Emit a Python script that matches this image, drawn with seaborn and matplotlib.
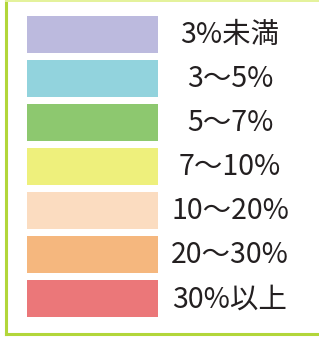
import matplotlib
matplotlib.use("Agg")
import matplotlib.pyplot as plt
import pandas as pd
import seaborn as sns
from matplotlib.lines import Line2D

# legend entries (top to bottom)
labels = ["3%未満", "3〜5%", "5〜7%", "7〜10%", "10〜20%", "20〜30%", "30%以上"]
colors = ["#bcbade", "#92d3dd", "#8dc86f", "#eef07c", "#fbdcc0", "#f5b77e", "#eb7779"]
widths = [1, 1, 1, 1, 1, 1, 1]

W, H = 319, 339
sns.set_theme(style="white")
plt.rcParams["font.family"] = ["Noto Sans CJK JP", "DejaVu Sans"]

fig = plt.figure(figsize=(W / 100, H / 100), dpi=100)
fig.patch.set_facecolor("white")

# swatch area: first row top 16px, pitch 44px, bar 37px
ax = fig.add_axes([27 / W, (H - 320.5) / H, (W - 27) / W, 308 / H])
df = pd.DataFrame({"label": labels, "w": widths})
sns.barplot(data=df, y="label", x="w", hue="label", palette=colors,
            orient="h", width=37 / 44, legend=False, saturation=1,
            linewidth=0, ax=ax)
ax.set_xlim(0, (W - 27) / 131)
ax.set_ylim(len(labels) - 0.5, -0.5)
ax.axis("off")

for i, lab in enumerate(labels):
    ax.text((230 - 27) / 131, i + 0.02, lab, ha="center", va="center",
            fontsize=20.5, color="#231f20")

# green frame (left, bottom, top)
def px_line(x0, y0, x1, y1, c, lw):
    fig.add_artist(Line2D([x0 / W, x1 / W], [1 - y0 / H, 1 - y1 / H],
                          transform=fig.transFigure, color=c, lw=lw,
                          solid_capstyle="projecting"))

px_line(5.5, 1, 5.5, 333.5, "#b2d63a", 2.2)
px_line(5.5, 333.5, W + 2, 333.5, "#b2d63a", 2.2)
px_line(5.5, 0.8, W + 2, 0.8, "#e4f29a", 1.4)

fig.savefig("out.png", dpi=100)
